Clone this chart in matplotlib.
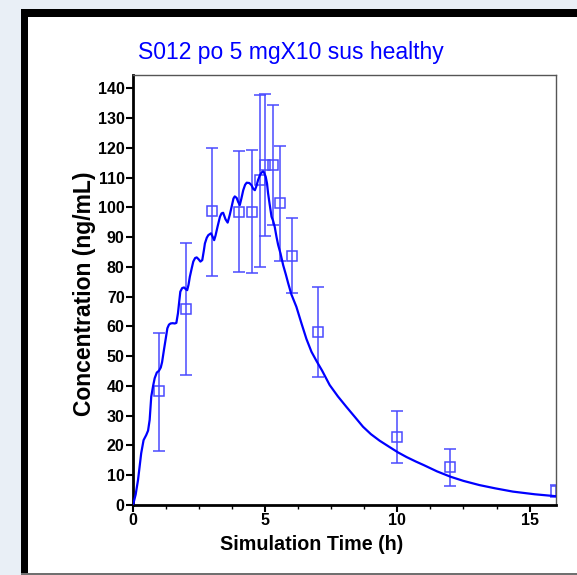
import matplotlib.pyplot as plt
from matplotlib.patches import Rectangle
from matplotlib.ticker import MultipleLocator

plt.rcParams['font.family'] = ['Liberation Sans', 'DejaVu Sans']

# simulated curve
sim_t = [0, 0.1, 0.19, 0.31, 0.4, 0.5, 0.57, 0.63, 0.69, 0.76, 0.82, 0.9, 0.98, 1.05, 1.1, 1.17,
         1.24, 1.3, 1.36, 1.42, 1.5, 1.58, 1.64, 1.7, 1.75, 1.79, 1.86, 1.93, 2.0, 2.05, 2.1, 2.15,
         2.22, 2.28, 2.35, 2.41, 2.48, 2.55, 2.62, 2.68, 2.72, 2.79, 2.85, 2.95, 3.02, 3.07, 3.12,
         3.2, 3.29, 3.35, 3.41, 3.5, 3.58, 3.66, 3.73, 3.8, 3.85, 3.92, 3.98, 4.04, 4.1, 4.17, 4.24,
         4.3, 4.4, 4.48, 4.55, 4.61, 4.67, 4.73, 4.8, 4.86, 4.92, 4.96, 5.02, 5.07, 5.11, 5.17, 5.24,
         5.3, 5.36, 5.43, 5.49, 5.58, 5.68, 5.78, 5.87, 5.99, 6.18, 6.37, 6.56, 6.75, 6.94, 7.15,
         7.44, 7.75, 8.07, 8.4, 8.7, 9.0, 9.33, 9.7, 10.02, 10.35, 10.7, 11.0, 11.5, 12.01, 12.5,
         13.1, 13.7, 14.37, 15.2, 15.94, 16.0]
sim_c = [0, 3.5, 8.4, 17.4, 21.8, 23.5, 25, 28.6, 36.4, 40, 42.6, 44.5, 45.1, 46.2, 48, 52.1,
         56, 59.4, 60.6, 61.0, 61.1, 61.0, 61.2, 64.4, 68.5, 71.7, 72.9, 73.1, 72.5, 72.2, 74, 76.7,
         79.5, 81.8, 83, 83.2, 82.6, 81.8, 82.3, 85.5, 87.9, 89.8, 90.7, 91.3, 90.0, 89.0, 90.5,
         93.6, 96.9, 98, 98.2, 96, 94.9, 97.5, 100.2, 103, 103.7, 103.2, 101.8, 100.8, 103, 105.8, 107.6,
         108.3, 108.2, 107.5, 106.2, 105.8, 107.2, 109.2, 110.8, 111.7, 112.1, 111.7, 110.3, 108, 104.7, 101, 96.9,
         95.5, 93.5, 90, 87.4, 84.5, 80.6, 77.5, 74.5, 70.8, 66.6, 61.1, 55.8, 51.5, 48.4, 45.2,
         40.3, 36.5, 33.0, 29.5, 26.3, 23.8, 21.6, 19.5, 17.7, 16.1, 14.6, 13.4, 11.3, 9.5, 8.1,
         6.7, 5.6, 4.5, 3.6, 3.0, 2.95]

# observed data with error bars
obs_t = [1, 2, 3, 4, 4.5, 4.8, 5, 5.28, 5.55, 6, 7, 10, 12, 16]
obs_c = [38.3, 65.9, 98.8, 98.6, 98.6, 109.2, 114.2, 114.2, 101.6, 83.7, 58.1, 23.0, 12.7, 4.8]
obs_lo = [18.3, 43.7, 77.0, 78.4, 78.1, 80.1, 90.4, 94.1, 82.1, 71.1, 43.1, 14.2, 6.4, 2.8]
obs_hi = [57.9, 87.9, 120.0, 119.0, 119.4, 137.9, 138.1, 134.4, 120.7, 96.3, 73.4, 31.7, 18.9, 6.8]

W, H = 577, 575
fig = plt.figure(figsize=(W / 100, H / 100), dpi=100)
fig.patch.set_facecolor('#e9eff6')


def box(x0, y0, x1, y1, color):
    fig.add_artist(Rectangle((x0 / W, 1 - y1 / H), (x1 - x0) / W, (y1 - y0) / H,
                             transform=fig.transFigure, facecolor=color, edgecolor='none',
                             zorder=-10))


# panel frame
box(21, 9, 577, 575, '#707070')
box(21, 9, 577, 573, 'white')
box(21, 9, 577, 17, 'black')
box(21, 9, 28, 573, 'black')

ax = fig.add_axes([133 / W, 1 - 505 / H, (556 - 133) / W, (505 - 75) / H])
ax.set_facecolor('white')

ax.plot(sim_t, sim_c, color='#0000ff', lw=1.6, zorder=3)

yerr = [[c - lo for c, lo in zip(obs_c, obs_lo)], [hi - c for c, hi in zip(obs_c, obs_hi)]]
ax.errorbar(obs_t, obs_c, yerr=yerr, fmt='s', ms=7.5, mfc='none', mec='#4a4aff', mew=1.1,
            ecolor='#4a4aff', elinewidth=1.1, capsize=4, capthick=1.1, zorder=2)

ax.set_xlim(0, 16)
ax.set_ylim(0, 144.5)
ax.set_xticks([0, 5, 10, 15])
ax.xaxis.set_minor_locator(MultipleLocator(1.25))
ax.set_yticks(range(0, 150, 10))

for s in ['left', 'bottom']:
    ax.spines[s].set_linewidth(2)
    ax.spines[s].set_color('black')
for s in ['top', 'right']:
    ax.spines[s].set_linewidth(1)
    ax.spines[s].set_color('#555555')

ax.tick_params(which='major', length=5, width=1.5, pad=1)
ax.tick_params(which='minor', length=3, width=1)
for lab in ax.get_xticklabels() + ax.get_yticklabels():
    lab.set_fontweight('bold')
    lab.set_fontsize(11.5)

fig.text(291 / W, 1 - 52 / H, 'S012 po 5 mgX10 sus healthy', color='#0000ff',
         fontsize=16.5, ha='center', va='center')
fig.text(311.7 / W, 1 - 545 / H, 'Simulation Time (h)', fontsize=14.2, fontweight='bold',
         ha='center', va='center')
fig.text(84 / W, 1 - 294 / H, 'Concentration (ng/mL)', fontsize=16.5, fontweight='bold',
         rotation=90, ha='center', va='center')

fig.savefig('out.png', dpi=100, facecolor=fig.get_facecolor())
